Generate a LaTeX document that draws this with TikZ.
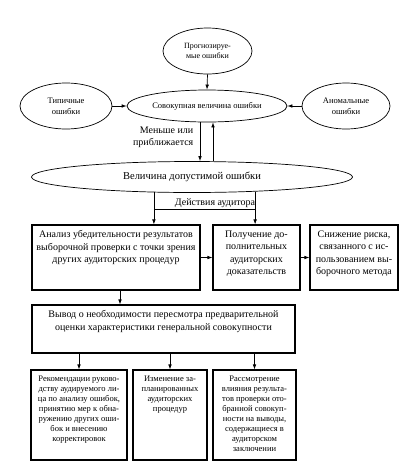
\documentclass[tikz,border=0pt]{standalone}
\usepackage{fontspec}
\setmainfont{Liberation Serif}
\usetikzlibrary {arrows.meta, positioning}
\usetikzlibrary {shapes.geometric, calc}
\tikzset{
    >={Latex[length=5pt, width=3.6pt]}
}
\tikzset{
    oval/.style={draw, ellipse, line width=0.7pt, inner sep=0pt, align=center},
    block/.style={draw, rectangle, line width=1.1pt, inner sep=0pt},
    link/.style={->, line width=0.7pt},
    note/.style={inner sep=1.5pt, align=center, font=\fontsize{10}{11.5}\selectfont},
    big/.style={font=\fontsize{10}{12.5}\selectfont},
    small/.style={font=\fontsize{8.5}{10}\selectfont}
}
\newcommand{\celltext}[3]{\parbox[c][#2][t]{#1}{\centering\vspace*{5.5pt}#3}}

\begin{document}
\begin{tikzpicture}[x=1pt, y=-1pt]
    \useasboundingbox (0,0) rectangle (418,475);
    % errors
    \node[oval, minimum width=89pt, minimum height=46pt, font=\fontsize{8}{10}\selectfont]
        (forecast) at (207.5,51) {Прогнозируе-\\мые ошибки};
    \node[oval, minimum width=160pt, minimum height=32pt, small]
        (total) at (207,106) {Совокупная величина ошибки};
    \node[oval, minimum width=92pt, minimum height=46pt, font=\fontsize{8.5}{11}\selectfont]
        (typical) at (66,106) {Типичные\\ошибки};
    \node[oval, minimum width=88pt, minimum height=46pt, font=\fontsize{8.5}{11}\selectfont]
        (anomal) at (346,106) {Аномальные\\ошибки};
    \node[oval, minimum width=321pt, minimum height=31pt, font=\fontsize{10.5}{12}\selectfont]
        (allowed) at (192,177) {Величина допустимой ошибки};
    \draw[link] (forecast.south) -- (total.north);
    \draw[link] (typical) -- (total);
    \draw[link] (anomal) -- (total);
    \draw[link] ([xshift=-7pt]total.south) -- ([xshift=-7pt]total.south |- allowed.north);
    \draw[link] ([xshift=6pt]total.south |- allowed.north) -- ([xshift=6pt]total.south);
    \node[note, anchor=east, align=right] (closer) at (195,137.5) {Меньше или\\приближается};
    % auditor actions
    \node[block, big] (analysis) at (116,257.5) {\celltext{168pt}{65pt}{Анализ убедительности результатов\\
        выборочной проверки с точки зрения\\других аудиторских процедур}};
    \node[block, big] (extra) at (256.5,257.5) {\celltext{87pt}{65pt}{Получение до-\\полнительных\\
        аудиторских\\доказательств}};
    \node[block, big] (risk) at (354,257.5) {\celltext{88pt}{65pt}{Снижение риска,\\связанного с ис-\\
        пользованием вы-\\борочного метода}};
    \node[note, anchor=south] (acts) at (215,209) {Действия аудитора};
    \draw[link] (allowed.202.8) -- (allowed.202.8 |- analysis.north);
    \draw[link] (allowed.347.6) -- (allowed.347.6 |- extra.north);
    \draw (allowed.202.8 |- acts.south) -- (allowed.347.6 |- acts.south);
    \draw[link] (analysis) -- (extra);
    \draw[link] (extra) -- (risk);
    % conclusion
    \node[block, big] (conclusion) at (163.5,329) {\celltext{263pt}{48pt}{Вывод о необходимости пересмотра предварительной\\
        оценки характеристики генеральной совокупности}};
    \draw[link] ([xshift=4pt]analysis.south) -- ([xshift=4pt]analysis.south |- conclusion.north);
    \node[block, small] (advice) at (79,415) {\celltext{96pt}{90pt}{Рекомендации руково-\\дству аудируемого ли-\\
        ца по анализу ошибок,\\принятию мер к обна-\\ружению других оши-\\бок и внесению\\корректировок}};
    \node[block, small] (change) at (170,415) {\celltext{74pt}{90pt}{Изменение за-\\планированных\\
        аудиторских\\процедур}};
    \node[block, small] (review) at (254.5,415) {\celltext{83pt}{90pt}{Рассмотрение\\влияния результа-\\
        тов проверки  ото-\\бранной совокуп-\\ности на выводы,\\содержащиеся в\\аудиторском\\заключении}};
    \foreach \b in {advice, change, review}{
        \draw[link] (conclusion.south -| \b.north) -- (\b.north);
    }
\end{tikzpicture}
\end{document}
